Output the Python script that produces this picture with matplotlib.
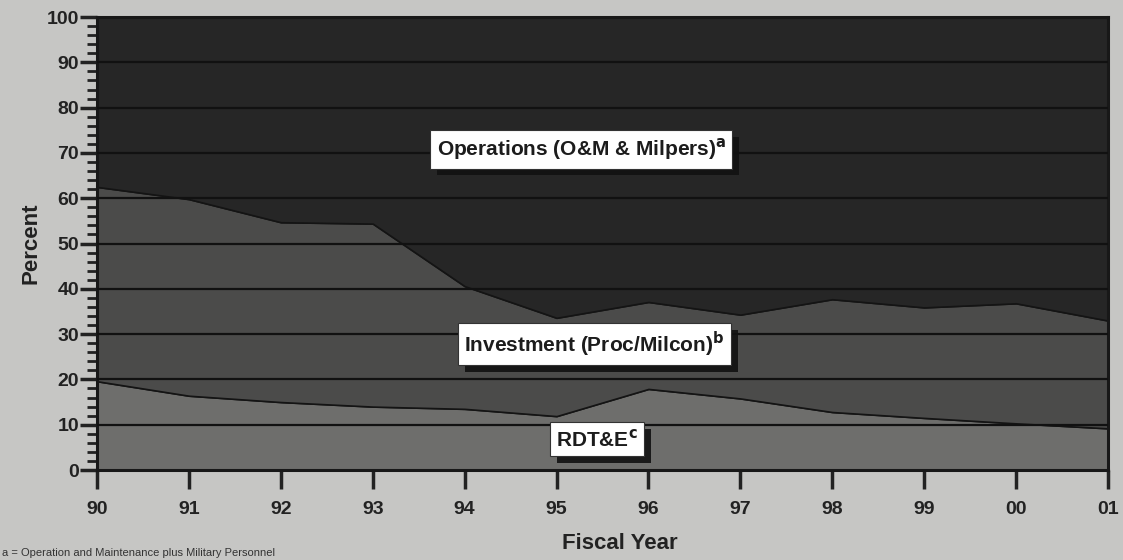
import matplotlib.pyplot as plt
import matplotlib.patheffects as pe
import numpy as np
from matplotlib.ticker import MultipleLocator

plt.rcParams['font.family'] = ['Liberation Sans', 'DejaVu Sans']

years = np.arange(12)
year_labels = ["90", "91", "92", "93", "94", "95", "96", "97", "98", "99", "00", "01"]

# share of budget, percent
rdte = [19.6, 16.4, 15.0, 14.0, 13.5, 11.9, 17.9, 15.8, 12.8, 11.5, 10.3, 9.2]
investment_top = [62.5, 59.8, 54.7, 54.4, 40.6, 33.6, 37.1, 34.3, 37.7, 35.9, 36.8, 33.0]
investment = [t - r for t, r in zip(investment_top, rdte)]
operations = [100 - t for t in investment_top]

bg = "#c6c6c4"

fig = plt.figure(figsize=(11.23, 5.6), dpi=100, facecolor=bg)
ax = fig.add_axes([0.0864, 0.1607, 0.9002, 0.8089])
ax.set_facecolor(bg)

ax.stackplot(years, rdte, investment, operations,
             colors=["#6e6e6c", "#4b4b4a", "#262626"],
             edgecolor="#141414", linewidth=1.2)

for y in range(10, 100, 10):
    ax.axhline(y, color="#111111", linewidth=1.6, zorder=3)

ax.set_xlim(0, 11)
ax.set_ylim(0, 100)

ax.set_xticks(years)
ax.set_xticklabels(year_labels, fontsize=14, fontweight="bold", color="#222222")
ax.set_yticks(range(0, 101, 10))
ax.set_yticklabels([str(v) for v in range(0, 101, 10)], fontsize=14,
                   fontweight="bold", color="#222222")
ax.yaxis.set_minor_locator(MultipleLocator(2))
ax.tick_params(axis="x", direction="out", length=14, width=2.5, pad=8, color="#222222")
ax.tick_params(axis="y", which="major", direction="out", length=12, width=2.5, pad=1, color="#222222")
ax.tick_params(axis="y", which="minor", direction="out", length=7, width=2, color="#222222")

for side in ["left", "bottom", "right", "top"]:
    ax.spines[side].set_color("#181818")
    ax.spines[side].set_linewidth(2.2)

ax.set_ylabel("Percent", fontsize=16, fontweight="bold", color="#222222", labelpad=4)
ax.set_xlabel("Fiscal Year", fontsize=16, fontweight="bold", color="#222222")
ax.xaxis.set_label_coords(0.517, -0.14)

shadow = [pe.withSimplePatchShadow(offset=(5, -5), shadow_rgbFace="#111111", alpha=0.9)]

labels = [
    (5.27, 70.8, r"Operations (O&M & Milpers)$^{\bf a}$"),
    (5.41, 27.8, r"Investment (Proc/Milcon)$^{\bf b}$"),
    (5.44, 6.8, r"RDT&E$^{\bf c}$"),
]
for x, y, s in labels:
    t = ax.text(x, y, s, ha="center", va="center", fontsize=15, fontweight="bold",
                color="#1c1c1c", zorder=6,
                bbox=dict(boxstyle="square,pad=0.3", facecolor="white",
                          edgecolor="#333333", linewidth=0.8))
    t.get_bbox_patch().set_path_effects(shadow)

fig.text(0.002, 0.004, "a = Operation and Maintenance plus Military Personnel",
         fontsize=8, color="#333333", ha="left", va="bottom")

fig.savefig("out.png", dpi=100, facecolor=bg)
